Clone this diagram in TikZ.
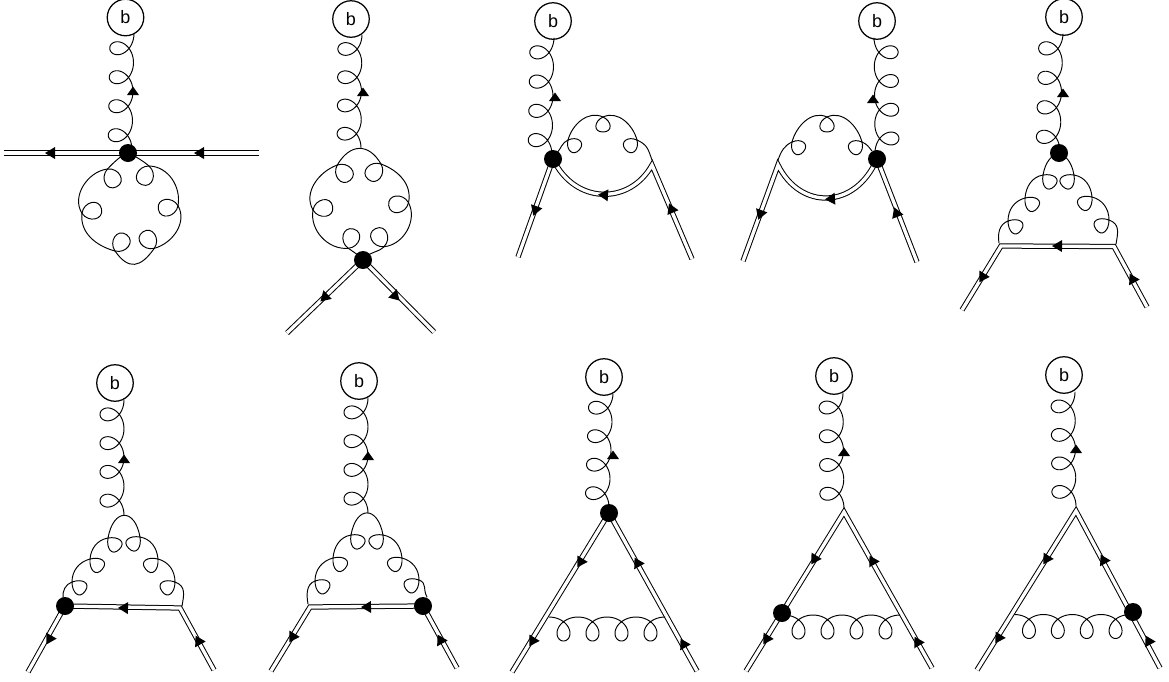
\documentclass[tikz,border=0pt]{standalone}
\usepackage{fontspec}
\setmainfont{Liberation Sans}
\usetikzlibrary{calc}
\tikzset{
  gl/.style={line width=0.95pt,line cap=round,black},
  dbl/.style={line width=1pt,double=white,double distance=3.3pt,draw=black},
  bub/.style={circle,draw=black,line width=1.25pt,minimum size=36.5pt,inner sep=0pt,outer sep=0pt,fill=white,font=\fontsize{18}{20}\selectfont},
  vtx/.style={circle,fill=black,minimum size=18pt,inner sep=0pt,outer sep=0pt}
}
% straight gluon: A -> B, n loops, side +1 = loops left of travel
\newcommand\gluon[4]{%
  \pgfpointdiff{\pgfpointanchor{#1}{center}}{\pgfpointanchor{#2}{center}}%
  \pgfgetlastxy{\gmx}{\gmy}%
  \pgfmathsetmacro\glen{veclen(\gmx,\gmy)}%
  \pgfmathsetmacro\gang{atan2(\gmy,\gmx)}%
  \pgfmathsetmacro\gper{\glen/#3}%
  \pgfmathsetmacro\gend{360*#3}%
  \pgfmathtruncatemacro\gsam{40*#3+1}%
  \draw[gl,shift={(#1)},rotate=\gang] plot[domain=0:\gend,samples=\gsam,smooth,variable=\t]
    ({\t/360*\gper+0.4456*\gper*sin(\t)},{#4*12*(1-cos(\t))});
}
% chain of bumps and loops. #1 s, #2 alpha, #3 loop height, #4 start, #5 start heading,
% #6 list x/y/phi/looseness, #7 end, #8 end heading, #9 end looseness; \cw sets the loop width
\newcommand\coil[9]{%
  \xdef\coilout{#5}%
  \coordinate (cp) at (#4);
  \foreach \cx/\cy/\cp/\clo in {#6}{%
    \pgfmathsetmacro\cohin{\cp+#1*#2+180}%
    \draw[gl] (cp) to[out=\coilout,in=\cohin,looseness=\clo] (\cx,\cy);
    \draw[gl] (\cx,\cy) .. controls ($(\cx,\cy)+(\cp+#1*#2:\cw)$) and ($(\cx,\cy)+(\cp:#3)+(\cp+#1*90:\cw)$) .. ($(\cx,\cy)+(\cp:#3)$)
       .. controls ($(\cx,\cy)+(\cp:#3)+(\cp-#1*90:\cw)$) and ($(\cx,\cy)+(\cp-#1*#2:\cw)$) .. (\cx,\cy);
    \pgfmathsetmacro\coho{\cp+180-#1*#2}%
    \xdef\coilout{\coho}%
    \coordinate (cp) at (\cx,\cy);
  }
  \pgfmathsetmacro\cohin{#8+180}%
  \draw[gl] (cp) to[out=\coilout,in=\cohin,looseness=#9] (#7);
}
% arrowheads: position, direction from A to B
\newcommand\ftip[3]{%
  \pgfmathanglebetweenpoints{\pgfpointanchor{#2}{center}}{\pgfpointanchor{#3}{center}}%
  \let\tipang\pgfmathresult
  \fill[black,shift={(#1)},rotate=\tipang] (5,0) -- (-5,6) -- (-5,-6) -- cycle;
}
\newcommand\gtip[1]{\fill[black,shift={(#1)}] (0,4.5) -- (-6,-4) -- (6,-4) -- cycle;}
\begin{document}
\begin{tikzpicture}[x=1pt,y=1pt]
\useasboundingbox (0,0) rectangle (1169,-681);
\fill[white] (0,0) rectangle (1169,-681);
% ---------- bubbles
\node[bub] (b1) at (125.5,-17.5) {b};
\node[bub] (b2) at (351,-19) {b};
\node[bub] (b3) at (553,-21) {b};
\node[bub] (b4) at (877,-21) {b};
\node[bub] (b5) at (1064,-17) {b};
\node[bub] (b6) at (115,-383) {b};
\node[bub] (b7) at (359,-381) {b};
\node[bub] (b8) at (604,-377) {b};
\node[bub] (b9) at (834,-376) {b};
\node[bub] (b10) at (1064,-375) {b};
% ---------- vertices and junctions
\coordinate (v1) at (128,-153);
\coordinate (v2) at (363,-260);
\coordinate (v3) at (553,-159);
\coordinate (v4) at (877,-159);
\coordinate (v5) at (1059,-153);
\coordinate (v6) at (65,-606);
\coordinate (v7) at (423,-606);
\coordinate (v8) at (609,-513);
\coordinate (v9) at (782,-613);
\coordinate (v10) at (1133,-612);
\coordinate (l1) at (4,-153); \coordinate (r1) at (259,-153);
\coordinate (l2) at (287,-333); \coordinate (r2) at (434,-332);
\coordinate (l3) at (518,-257); \coordinate (r3) at (692,-259); \coordinate (c3) at (652,-165);
\coordinate (l4) at (743,-261); \coordinate (r4) at (917,-262); \coordinate (c4) at (778,-165);
\coordinate (l5) at (962,-310); \coordinate (r5) at (1147,-307);
\coordinate (c5a) at (1001,-246); \coordinate (c5b) at (1114,-246.5);
\coordinate (l6) at (28,-672); \coordinate (r6) at (214,-670); \coordinate (c6) at (180,-608);
\coordinate (l7) at (271,-671); \coordinate (r7) at (457,-668); \coordinate (c7) at (310,-607);
\coordinate (l8) at (512,-672); \coordinate (r8) at (697,-671);
\coordinate (l9) at (746,-671); \coordinate (r9) at (932,-668); \coordinate (a9) at (844,-512);
\coordinate (l10) at (977,-670); \coordinate (r10) at (1160,-668); \coordinate (a10) at (1076,-511);
% gluon end points
\coordinate (g1a) at (132,-150); \coordinate (g1b) at (134,-34);
\coordinate (g2a) at (361,-148); \coordinate (g2b) at (362,-35);
\coordinate (g3a) at (552,-155); \coordinate (g3b) at (554,-38);
\coordinate (g4a) at (875,-153); \coordinate (g4b) at (874,-38);
\coordinate (g5a) at (1060,-152); \coordinate (g5b) at (1063,-34);
\coordinate (g6a) at (124,-515); \coordinate (g6b) at (124,-400);
\coordinate (g7a) at (368,-513); \coordinate (g7b) at (368,-398);
\coordinate (g8a) at (609,-508); \coordinate (g8b) at (613,-394);
\coordinate (g9a) at (844,-508); \coordinate (g9b) at (843,-393);
\coordinate (g10a) at (1076,-506); \coordinate (g10b) at (1075,-392);
\coordinate (h8a) at (549,-617); \coordinate (h8b) at (665,-617);
\coordinate (h9a) at (784,-615); \coordinate (h9b) at (900,-615);
\coordinate (h10a) at (1014.5,-614.5); \coordinate (h10b) at (1130,-614.5);
% ---------- double lines
\draw[dbl] (r1) -- (l1);
\draw[dbl] (l2) -- (v2) -- (r2);
\draw[dbl] (r3) -- (c3) .. controls (630,-205) and (575,-205) .. (v3) -- (l3);
\draw[dbl] (r4) -- (v4) .. controls (855,-210) and (800,-210) .. (c4) -- (l4);
\draw[dbl] (r5) -- (c5b) -- (c5a) -- (l5);
\draw[dbl] (r6) -- (c6) -- (v6) -- (l6);
\draw[dbl] (r7) -- (v7) -- (c7) -- (l7);
\draw[dbl] (r8) -- (v8) -- (l8);
\draw[dbl] (r9) -- (a9) -- (l9);
\draw[dbl] (r10) -- (a10) -- (l10);
% ---------- gluons to the bubbles
\gluon{g1a}{g1b}{4}{1}
\gluon{g2a}{g2b}{4}{1}
\gluon{g3a}{g3b}{4}{1}
\gluon{g4a}{g4b}{4}{-1}
\gluon{g5a}{g5b}{4}{1}
\gluon{g6a}{g6b}{4}{1}
\gluon{g7a}{g7b}{4}{1}
\gluon{g8a}{g8b}{4}{1}
\gluon{g9a}{g9b}{4}{1}
\gluon{g10a}{g10b}{4}{1}
% ---------- rings
\def\cw{11.5}
\coil{1}{70}{20}{130,-153}{-35}{149/-166/-111/1,178/-205.7/-170/1,154.3/-248.3/125/1,115/-251/55/1.55,82/-213.3/13/1,107.5/-169/-63/1}{126,-153}{35}{1}
\coil{1}{70}{20}{361,-258}{135}{348.3/-248.3/75/1,313/-210/10/1,337.3/-165/-50/1,381/-164/-130/1.45,408.5/-202.7/-172/1,384/-246.7/115/1}{365,-258}{230}{1}
% ---------- arches
\def\cw{10}
\coil{1}{65}{15}{557,-153}{50}{568/-140/-40/1,603/-117/-90/1,637/-140/-140/1}{652,-160}{-70}{1.2}
\coil{1}{65}{15}{778,-160}{70}{792/-142/-40/1,827/-117/-90/1,862/-142/-140/1}{872,-151}{-50}{1.2}
% ---------- triangles
\def\cw{10.5}
\coil{1}{55}{16}{999,-243}{100}{1008/-221/-35/1,1025/-198/-40/1,1043/-175/-45/1,1074/-175/-135/2.3,1092/-197/-140/1,1109/-220/-145/1}{1116,-244}{-100}{1.2}
\coil{1}{55}{16}{63,-598}{95}{72/-582/-35/1,90/-559/-40/1,108/-538/-45/1,140/-537/-135/2.4,158/-559/-140/1,175/-582/-145/1}{182,-606}{-100}{1.2}
\coil{1}{55}{16}{308,-604}{100}{315/-581/-35/1,333/-558/-40/1,351/-535/-45/1,383/-535/-135/2.4,402/-558/-140/1,419/-580/-145/1}{427,-597}{-60}{1.2}
% ---------- lower gluons
\gluon{h8a}{h8b}{4}{-1}
\gluon{h9a}{h9b}{4}{-1}
\gluon{h10a}{h10b}{4}{-1}
% ---------- arrowheads
\ftip{50,-153}{r1}{l1}
\ftip{199,-153}{r1}{l1}
\ftip{324,-298}{v2}{l2}
\ftip{396,-297}{v2}{r2}
\ftip{603,-195}{c3}{v3}
\ftip{535,-211}{v3}{l3}
\ftip{671,-208}{r3}{c3}
\ftip{830,-199}{v4}{c4}
\ftip{760,-215}{c4}{l4}
\ftip{896,-212}{r4}{v4}
\ftip{1057,-246}{c5b}{c5a}
\ftip{982,-278}{c5a}{l5}
\ftip{1132,-278}{r5}{c5b}
\ftip{123,-608}{c6}{v6}
\ftip{49,-640}{v6}{l6}
\ftip{198,-640}{r6}{c6}
\ftip{366,-607}{v7}{c7}
\ftip{292,-638}{c7}{l7}
\ftip{440,-639}{r7}{v7}
\ftip{580,-563}{v8}{l8}
\ftip{532,-642}{v8}{l8}
\ftip{637,-562}{r8}{v8}
\ftip{683,-643}{r8}{v8}
\ftip{814,-560}{a9}{l9}
\ftip{766,-640}{a9}{l9}
\ftip{872,-560}{r9}{a9}
\ftip{917,-641}{r9}{a9}
\ftip{1046,-560}{a10}{l10}
\ftip{998,-639}{a10}{l10}
\ftip{1103,-559}{r10}{a10}
\ftip{1148,-640}{r10}{a10}
\gtip{133,-91}
\gtip{363,-92}
\gtip{555,-97}
\gtip{873,-99}
\gtip{1063,-93}
\gtip{124,-459}
\gtip{368,-456}
\gtip{613,-455}
\gtip{844,-452}
\gtip{1076,-449}
% ---------- vertex dots
\foreach \n in {1,...,10} { \node[vtx] (dot\n) at (v\n) {}; }
\end{tikzpicture}
\end{document}
